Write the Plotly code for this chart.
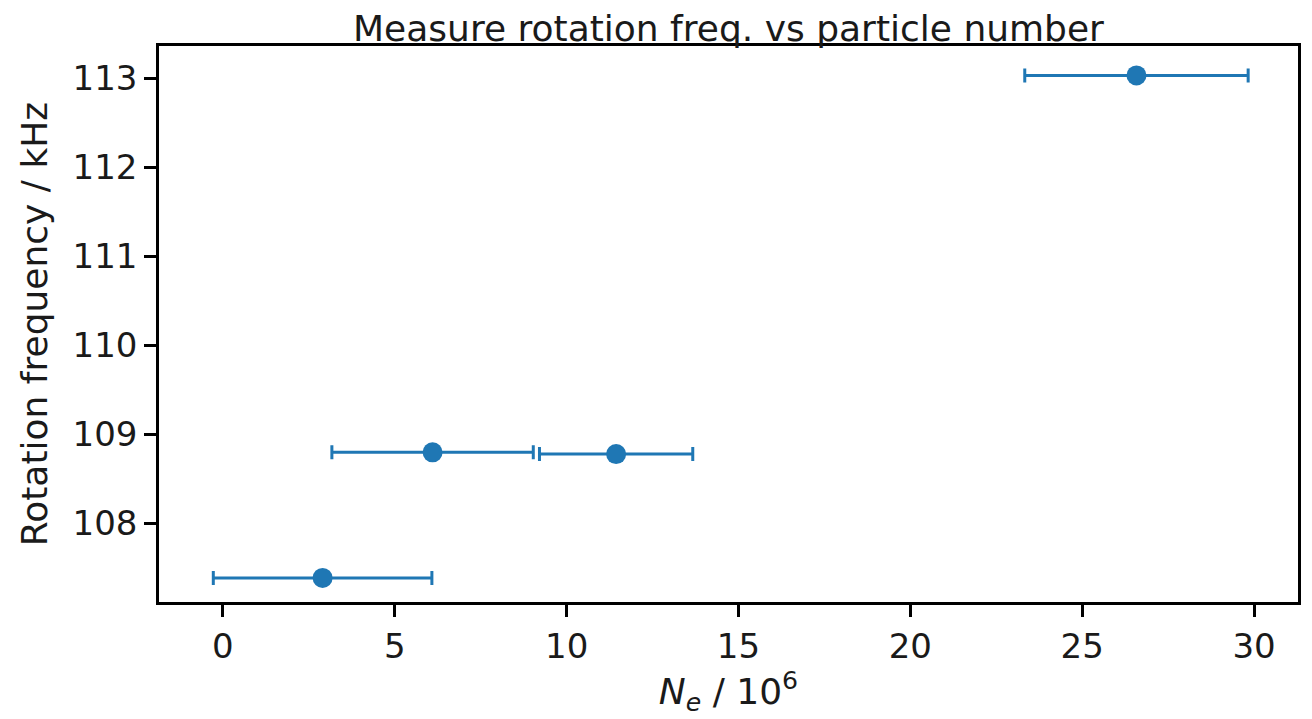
import plotly.graph_objects as go

# particle number (10^6) and rotation frequency (kHz)
n_e = [2.90, 6.10, 11.44, 26.58]
n_e_err = [3.18, 2.93, 2.23, 3.25]
rot_freq = [107.39, 108.80, 108.78, 113.03]

blue = '#1f77b4'
font = 'DejaVu Sans'
ink = '#1a1a1a'

trace = go.Scatter(
    x=n_e,
    y=rot_freq,
    mode='markers',
    marker={'color': blue, 'size': 20},
    error_x={'type': 'data', 'array': n_e_err, 'visible': True,
             'color': blue, 'thickness': 3, 'width': 7},
    showlegend=False
)

axis_style = {"showline": True, "linecolor": "black", "linewidth": 2.5,
              "mirror": True, "ticks": "outside", "ticklen": 12,
              "tickwidth": 2.5, "tickcolor": "black", "showgrid": False,
              "zeroline": False, "tickfont": {"size": 34, "color": ink}}

# the page body has an 8px margin, so the figure is shrunk by that much
layout = go.Layout({"template": 'simple_white',
                    "font": {"family": font, "color": ink},
                    "title": {"text": 'Measure rotation freq. vs particle number',
                              "x": 0.5, "xref": "paper", "y": 1, "yref": "paper",
                              "xanchor": "center", "yanchor": "bottom",
                              "pad": {"b": 5},
                              "font": {"size": 36, "family": font, "color": ink}},
                    "xaxis": {**axis_style, "range": [-1.86, 31.28],
                              "tickvals": [0, 5, 10, 15, 20, 25, 30],
                              "title": {"text": "<i>N</i><sub><i>e</i></sub> / 10<sup>6</sup>",
                                        "font": {"size": 36}, "standoff": 6}},
                    "yaxis": {**axis_style, "range": [107.12, 113.36],
                              "tickvals": [108, 109, 110, 111, 112, 113],
                              "title": {"text": "Rotation frequency / kHz",
                                        "font": {"size": 36}, "standoff": 14}},
                    "margin": {"l": 151, "r": 14, "t": 38, "b": 117},
                    "width": 1304,
                    "height": 711,
                    "plot_bgcolor": "white",
                    "paper_bgcolor": "white"})

fig = go.Figure(data=[trace], layout=layout)
fig.write_html("out.html")
